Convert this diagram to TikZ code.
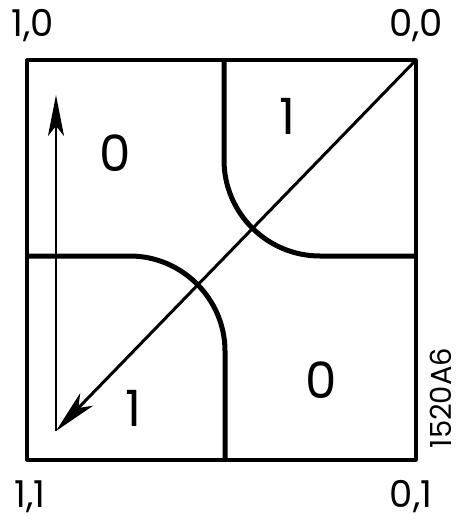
\documentclass[tikz,border=0pt]{standalone}
\usepackage{fontspec}
\setmainfont{Poppins}
\usetikzlibrary{arrows.meta}
\tikzset{
  border/.style={line width=3.2pt, line join=round},
  boundary/.style={line width=5pt, line cap=butt},
  diag/.style={line width=3pt, -{Stealth[length=44pt,width=18pt,inset=12pt]}},
  upar/.style={line width=2.4pt, -{Stealth[length=41pt,width=16pt,inset=10pt]}},
  corner/.style={font=\fontsize{37}{37}\selectfont, inner sep=0pt, anchor=base},
  region/.style={font=\fontsize{50}{50}\selectfont, inner sep=0pt, anchor=base},
  tag/.style={font=\fontsize{29}{29}\selectfont, inner sep=0pt, rotate=90}
}
\begin{document}
\begin{tikzpicture}[x=1pt,y=-1pt]
\useasboundingbox (0,0) rectangle (461,522);
\coordinate (tl) at (27,60);
\coordinate (tr) at (416,60);
\coordinate (bl) at (27,460);
\coordinate (br) at (416,460);
\coordinate (tip) at (56,431);
\coordinate (vtop) at (56,95);
% boundaries
\draw[boundary] (224,60) -- (224,160) .. controls (224,213) and (267,256) .. (320,256) -- (416,256);
\draw[boundary] (27,256) -- (130,256) .. controls (182,256) and (225,299) .. (225,351) -- (225,460);
% square
\draw[border] (tl) rectangle (br);
% arrows
\draw[diag] (tr) -- (tip);
\draw[upar] (tip) -- (vtop);
% corner labels
\node[corner] (l10) at (33,36) {1,0};
\node[corner] (l00) at (416,36) {0,0};
\node[corner] (l11) at (30,507) {1,1};
\node[corner] (l01) at (411,507) {0,1};
% region labels
\node[region] (r0a) at (115,171) {0};
\node[region] (r1a) at (287,134) {1};
\node[region] (r1b) at (133,426) {1};
\node[region] (r0b) at (321,398) {0};
% tag
\node[tag] (id) at (441,398) {1520A6};
\end{tikzpicture}
\end{document}
